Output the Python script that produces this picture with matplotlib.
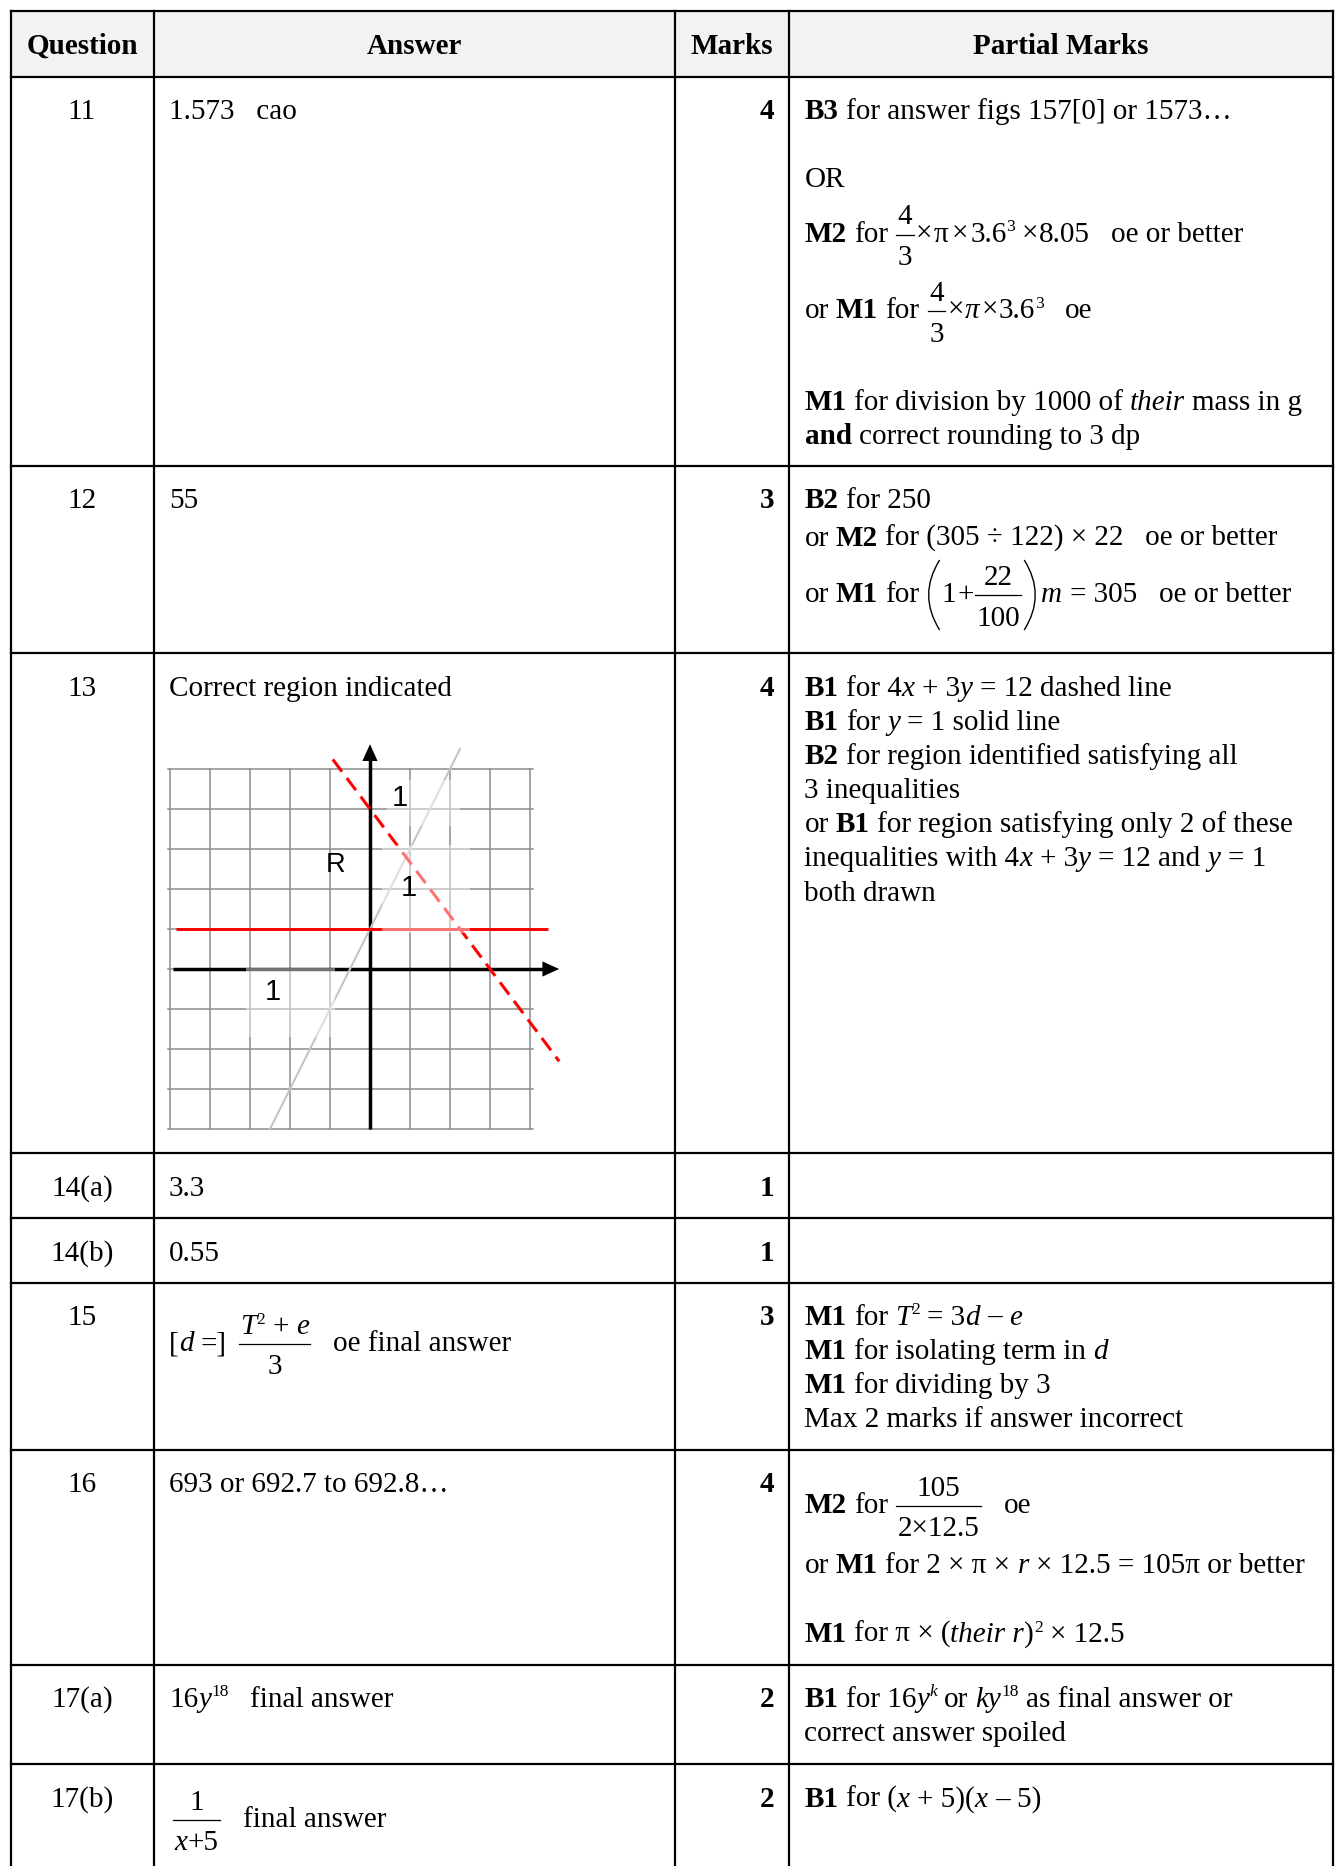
import matplotlib
matplotlib.use('Agg')
import matplotlib.pyplot as plt
from matplotlib.font_manager import FontProperties
from matplotlib.transforms import Affine2D
from matplotlib.lines import Line2D
from matplotlib.patches import Rectangle, PathPatch
from matplotlib.path import Path

F, G, P = 'FRAC', 'GAP', 'PAREN'

# table content
headers = ['Question', 'Answer', 'Marks', 'Partial Marks']
questions = ['11', '12', '13', '14(a)', '14(b)', '15', '16', '17(a)', '17(b)']
marks = ['4', '3', '4', '1', '1', '3', '4', '2', '2']

answers = [
    [('1.573   cao', 'n')],
    [('55', 'n')],
    [('Correct region indicated', 'n')],
    [('3.3', 'n')],
    [('0.55', 'n')],
    [('[', 'n'), ('d', 'i'), (' =]', 'n'), (G, 11),
     (F, [('T', 'i'), ('2', 's'), (' + ', 'n'), ('e', 'i')], [('3', 'n')]),
     ('   oe final answer', 'n')],
    [('693 or 692.7 to 692.8…', 'n')],
    [('16', 'n'), ('y', 'i'), ('18', 's'), ('   final answer', 'n')],
    [(G, 3), (F, [('1', 'n')], [('x', 'i'), ('+5', 'n')]), ('   final answer', 'n')],
]

partial = [
    [[('B3', 'b'), (' for answer figs 157[0] or 1573…', 'n')],
     [('OR', 'n')],
     [('M2', 'b'), (' for ', 'n'), (F, [('4', 'n')], [('3', 'n')]), (G, 1), ('×', 'n'), (G, 1),
      ('π', 'n'), (G, 4), ('×', 'n'), (G, 2), ('3.6', 'n'), ('3', 's'), (G, 6), ('×', 'n'),
      (G, 1), ('8.05', 'n'), ('   oe or better', 'n')],
     [('or ', 'n'), ('M1', 'b'), (' for ', 'n'), (F, [('4', 'n')], [('3', 'n')]), (G, 1), ('×', 'n'),
      (G, 1), ('π', 'i'), (G, 2), ('×', 'n'), (G, 1), ('3.6', 'n'), ('3', 's'), ('   oe', 'n')],
     [('M1', 'b'), (' for division by 1000 of ', 'n'), ('their', 'i'), (' mass in g', 'n')],
     [('and', 'b'), (' correct rounding to 3 dp', 'n')]],
    [[('B2', 'b'), (' for 250', 'n')],
     [('or ', 'n'), ('M2', 'b'), (' for (305 ÷ 122) × 22   oe or better', 'n')],
     [('or ', 'n'), ('M1', 'b'), (' for ', 'n'), (P, '('), ('1', 'n'), (G, 1), ('+', 'n'),
      (F, [('22', 'n')], [('100', 'n')]), (P, ')'), (G, 4), ('m', 'i'),
      (' = 305   oe or better', 'n')]],
    [[('B1', 'b'), (' for 4', 'n'), ('x', 'i'), (' + 3', 'n'), ('y', 'i'), (' = 12 dashed line', 'n')],
     [('B1', 'b'), (' for ', 'n'), ('y', 'i'), (' = 1 solid line', 'n')],
     [('B2', 'b'), (' for region identified satisfying all', 'n')],
     [('3 inequalities', 'n')],
     [('or ', 'n'), ('B1', 'b'), (' for region satisfying only 2 of these', 'n')],
     [('inequalities with 4', 'n'), ('x', 'i'), (' + 3', 'n'), ('y', 'i'), (' = 12 and ', 'n'),
      ('y', 'i'), (' = 1', 'n')],
     [('both drawn', 'n')]],
    [],
    [],
    [[('M1', 'b'), (' for ', 'n'), ('T', 'i'), ('2', 's'), (' = 3', 'n'), ('d', 'i'), (' – ', 'n'), ('e', 'i')],
     [('M1', 'b'), (' for isolating term in ', 'n'), ('d', 'i')],
     [('M1', 'b'), (' for dividing by 3', 'n')],
     [('Max 2 marks if answer incorrect', 'n')]],
    [[('M2', 'b'), (' for ', 'n'), (F, [('105', 'n')], [('2×12.5', 'n')]), ('   oe', 'n')],
     [('or ', 'n'), ('M1', 'b'), (' for 2 × π × ', 'n'), ('r', 'i'), (' × 12.5 = 105π or better', 'n')],
     [('M1', 'b'), (' for π × (', 'n'), ('their r', 'i'), (')', 'n'), ('2', 's'), (' × 12.5', 'n')]],
    [[('B1', 'b'), (' for 16', 'n'), ('y', 'i'), ('k', 'si'), (' or ', 'n'), ('ky', 'i'), ('18', 's'),
      (' as final answer or', 'n')],
     [('correct answer spoiled', 'n')]],
    [[('B1', 'b'), (' for (', 'n'), ('x', 'i'), (' + 5)(', 'n'), ('x', 'i'), (' – 5)', 'n')]],
]

# graph for question 13
grid_x = list(range(-5, 5))
grid_y = list(range(-4, 6))
dashed_x = [-0.93, 4.73]          # 4x + 3y = 12
solid_x = [-4.85, 4.45]           # y = 1
gray_y = [-4.0, 5.5]              # y = 2x + 1
graph_labels = [('1', 0.75, 4.27), ('R', -0.86, 2.6), ('1', 0.96, 2.02), ('1', -2.42, -0.58)]

# layout (pixels, top-left origin)
W, H = 1335, 1866
COL_X = [10.5, 153.5, 675, 789, 1333]
ROW_Y = [10.5, 76.5, 465.5, 652.5, 1152.5, 1218, 1283, 1450, 1665, 1763.5]
Q_BASE = [119, 508, 696, 1196, 1261, 1325, 1492.5, 1707, 1807]
A_BASE = [119, 508, 696, 1196, 1261, 1351, 1492.5, 1707, 1827]
PM_BASE = [[119, 186.8, 241.5, 318.3, 410, 444.5],
           [508, 546, 602],
           [696 + 34.1 * k for k in range(7)],
           [], [],
           [1325, 1358.8, 1392.8, 1426.8],
           [1513, 1573, 1642],
           [1707, 1741],
           [1807]]

FS = 21.0
SERIF = 'Liberation Serif'
LW = 1.6

fig = plt.figure(figsize=(W / 100, H / 100), dpi=100)
T = Affine2D().scale(1, -1).translate(0, H)
R = fig.canvas.get_renderer()


def fp(kind):
    size = FS * (0.6 if kind in ('s', 'si') else 1.0)
    weight = 'bold' if kind == 'b' else 'normal'
    style = 'italic' if kind in ('i', 'si') else 'normal'
    return FontProperties(family=SERIF, size=size, weight=weight, style=style)


def adv(s, prop):
    if not s:
        return 0.0
    w1 = R.get_text_width_height_descent('|' + s + '|', prop, ismath=False)[0]
    w0 = R.get_text_width_height_descent('||', prop, ismath=False)[0]
    return w1 - w0


def frac_width(item):
    return max(runs_width(item[1]), runs_width(item[2])) + 5


def runs_width(runs):
    w = 0.0
    for it in runs:
        if it[0] == G:
            w += it[1]
        elif it[0] == F:
            w += frac_width(it)
        elif it[0] == P:
            w += 15
        else:
            w += adv(it[0], fp(it[1]))
    return w


def hline(x0, x1, y, lw=LW, color='black'):
    fig.add_artist(Line2D([x0, x1], [y, y], lw=lw, color=color, transform=T,
                          solid_capstyle='projecting'))


def draw_runs(x, y, runs, ha='left'):
    if ha == 'right':
        x -= runs_width(runs)
    elif ha == 'center':
        x -= runs_width(runs) / 2
    for it in runs:
        tag = it[0]
        if tag == G:
            x += it[1]
            continue
        if tag == F:
            wn, wd = runs_width(it[1]), runs_width(it[2])
            bw = max(wn, wd) + 3
            cx = x + 1 + bw / 2
            draw_runs(cx - wn / 2, y - 17, it[1])
            draw_runs(cx - wd / 2, y + 23.5, it[2])
            fig.add_artist(Line2D([x + 1, x + 1 + bw], [y - 7, y - 7], lw=0.9,
                                  color='black', transform=T))
            x += bw + 2
            continue
        if tag == P:
            top, bot = y - 42, y + 28
            if it[1] == '(':
                verts = [(x + 13, top), (x - 9, (top + bot) / 2), (x + 13, bot)]
            else:
                verts = [(x + 2, top), (x + 24, (top + bot) / 2), (x + 2, bot)]
            path = Path(verts, [Path.MOVETO, Path.CURVE3, Path.CURVE3])
            fig.add_artist(PathPatch(path, fill=False, lw=1.0, color='black', transform=T))
            x += 15
            continue
        s, kind = it
        prop = fp(kind)
        dy = -10.5 if kind in ('s', 'si') else 0
        lead = s[:len(s) - len(s.lstrip(' '))]
        if s.strip():
            fig.text(x + adv(lead, prop), y + dy, s.strip(), fontproperties=prop,
                     ha='left', va='baseline', transform=T, color='black')
        x += adv(s, prop)
    return x


# header background
fig.add_artist(Rectangle((COL_X[0], ROW_Y[0]), COL_X[-1] - COL_X[0], ROW_Y[1] - ROW_Y[0],
                         facecolor='#f2f2f2', edgecolor='none', transform=T))

# header text
for i, h in enumerate(headers):
    cx = (COL_X[i] + COL_X[i + 1]) / 2
    draw_runs(cx, 53.5, [(h, 'b')], ha='center')

# body
qx = (COL_X[0] + COL_X[1]) / 2
for i in range(len(questions)):
    draw_runs(qx, Q_BASE[i], [(questions[i], 'n')], ha='center')
    draw_runs(COL_X[1] + 15.5, A_BASE[i], answers[i])
    draw_runs(COL_X[3] - 15, Q_BASE[i], [(marks[i], 'b')], ha='right')
    for line, yb in zip(partial[i], PM_BASE[i]):
        draw_runs(COL_X[3] + 15.5, yb, line)

# grid lines of the table
for y in ROW_Y:
    hline(COL_X[0], COL_X[-1], y)
for x in COL_X:
    fig.add_artist(Line2D([x, x], [ROW_Y[0], H + 5], lw=LW, color='black', transform=T))

# graph for question 13
ox, oy, U = 370, 969, 40
xl, yl = (-5.5, 5.2), (-4.4, 5.8)
left, right = ox + xl[0] * U, ox + xl[1] * U
top, bottom = oy - yl[1] * U, oy - yl[0] * U
ax = fig.add_axes([left / W, 1 - bottom / H, (right - left) / W, (bottom - top) / H])
ax.set_xlim(xl)
ax.set_ylim(yl)
ax.axis('off')

for gx in grid_x:
    ax.plot([gx, gx], [-4, 5], color='#8c8c8c', lw=1.1, zorder=1)
for gy in grid_y:
    ax.plot([-5.05, 4.07], [gy, gy], color='#8c8c8c', lw=1.1, zorder=1)

ax.plot([-4.93, 4.4], [0, 0], color='black', lw=2.5, zorder=3, solid_capstyle='butt')
ax.fill([4.73, 4.31, 4.31], [0, 0.19, -0.19], color='black', zorder=3, lw=0)
ax.plot([0, 0], [-4.0, 5.25], color='black', lw=2.5, zorder=3, solid_capstyle='butt')
ax.fill([0, -0.19, 0.19], [5.62, 5.2, 5.2], color='black', zorder=3, lw=0)

ax.plot([(y - 1) / 2 for y in gray_y], gray_y, color='#c4c4c4', lw=1.5, zorder=4)
ax.plot(solid_x, [1, 1], color='#ff0000', lw=2.1, zorder=5, solid_capstyle='butt')
ax.plot(dashed_x, [(12 - 4 * x) / 3 for x in dashed_x], color='#ff0000', lw=2.2,
        dashes=(5, 2.6), zorder=5)

# light label backgrounds
for (bx0, bx1, by0, by1) in [(-3.1, -0.88, -1.7, 0.03), (0.29, 2.5, 0.9, 3.1), (0.42, 2.25, 3.58, 4.73)]:
    ax.add_patch(Rectangle((bx0, by0), bx1 - bx0, by1 - by0, facecolor='white',
                           edgecolor='none', alpha=0.45, zorder=6))
for s, lx, ly in graph_labels:
    ax.text(lx, ly, s, fontfamily='Liberation Sans', fontsize=21 if s == '1' else 19.5,
            ha='center', va='center', color='black', zorder=7)

fig.savefig('out.png', dpi=100, facecolor='white')
